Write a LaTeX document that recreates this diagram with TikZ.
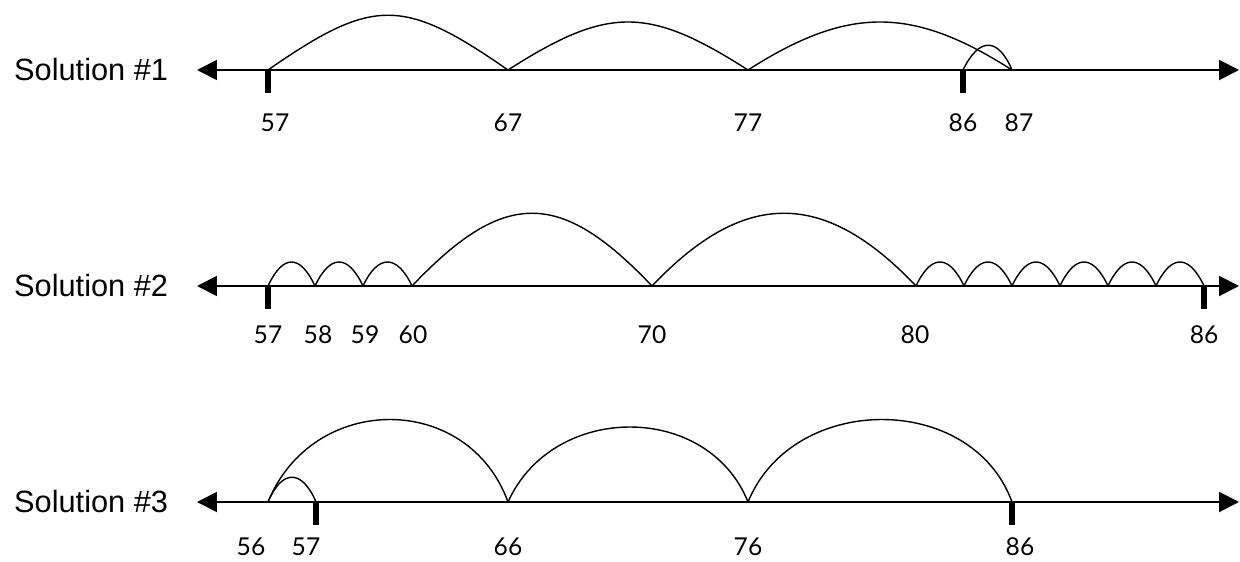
\documentclass[tikz,border=0pt]{standalone}
\usepackage{fontspec}
\setmainfont{Liberation Sans}
\newfontfamily\numfont{Lato}
\usetikzlibrary{arrows.meta}
\tikzset{
  axis/.style={line width=1.1pt,
    {Triangle[length=0.4cm,width=0.4cm]}-{Triangle[length=0.4cm,width=0.4cm]}},
  hop/.style={line width=0.8pt},
  endtick/.style={line width=3pt},
  numlabel/.style={inner sep=1pt,font=\numfont\fontsize{14}{16}\selectfont},
  sollabel/.style={anchor=west,font=\fontsize{17.5}{20}\selectfont}
}
\begin{document}
\begin{tikzpicture}[x=0.02cm,y=-0.02cm]
\useasboundingbox (0,0) rectangle (1240,561);
% Solution #1: 57 -> 87, back to 86
\node[sollabel] (s1) at (8,70) {Solution \#1};
\coordinate (a1l) at (197,70);
\coordinate (a1r) at (1239,70);
\draw[axis] (a1l) -- (a1r);
\foreach \n/\x/\lx in {57/268/275, 67/508/508, 77/748/748, 86/963/963, 87/1012/1019} {
  \coordinate (p1-\n) at (\x,70);
  \node[numlabel] (l1-\n) at (\lx,123) {\n};
}
\draw[endtick] (p1-57) -- ++(0,23);
\draw[endtick] (p1-86) -- ++(0,23);
\draw[hop] (p1-57) .. controls +(105,-73) and +(-105,-73) .. (p1-67);
\foreach \a/\b in {67/77, 77/87}
  \draw[hop] (p1-\a) .. controls +(100,-64) and +(-100,-64) .. (p1-\b);
\draw[hop] (p1-86) .. controls +(16,-33) and +(-14,-33) .. (p1-87);

% Solution #2: 57 -> 86 in small and large steps
\node[sollabel] (s2) at (8,286) {Solution \#2};
\coordinate (a2l) at (197,286);
\coordinate (a2r) at (1239,286);
\draw[axis] (a2l) -- (a2r);
\foreach \n/\x in {57/268, 58/315, 59/363, 60/412, 70/652, 80/916,
                   81/964, 82/1012, 83/1060, 84/1108, 85/1156, 86/1204}
  \coordinate (p2-\n) at (\x,286);
\foreach \n/\lx in {57/268, 58/318, 59/365, 60/413, 70/652, 80/915, 86/1204}
  \node[numlabel] (l2-\n) at (\lx,335) {\n};
\draw[endtick] (p2-57) -- ++(0,23);
\draw[endtick] (p2-86) -- ++(0,23);
\foreach \a/\b in {57/58, 58/59, 59/60, 80/81, 81/82, 82/83, 83/84, 84/85, 85/86}
  \draw[hop] (p2-\a) .. controls +(15,-32) and +(-15,-32) .. (p2-\b);
\foreach \a/\b in {60/70, 70/80}
  \draw[hop] (p2-\a) .. controls +(92,-97) and +(-92,-97) .. (p2-\b);

% Solution #3: 56 -> 86, back to 57
\node[sollabel] (s3) at (8,502) {Solution \#3};
\coordinate (a3l) at (197,502);
\coordinate (a3r) at (1239,502);
\draw[axis] (a3l) -- (a3r);
\foreach \n/\x/\lx in {56/268/251, 57/316/306, 66/508/508, 76/748/748, 86/1012/1020} {
  \coordinate (p3-\n) at (\x,502);
  \node[numlabel] (l3-\n) at (\lx,547) {\n};
}
\draw[endtick] (p3-57) -- ++(0,23);
\draw[endtick] (p3-86) -- ++(0,23);
\draw[hop] (p3-56) .. controls +(14,-33) and +(-14,-33) .. (p3-57);
\foreach \a/\b in {56/66, 76/86}
  \draw[hop] (p3-\a) .. controls +(45,-110) and +(-40,-110) .. (p3-\b);
\draw[hop] (p3-66) .. controls +(45,-100) and +(-40,-100) .. (p3-76);
\end{tikzpicture}
\end{document}
